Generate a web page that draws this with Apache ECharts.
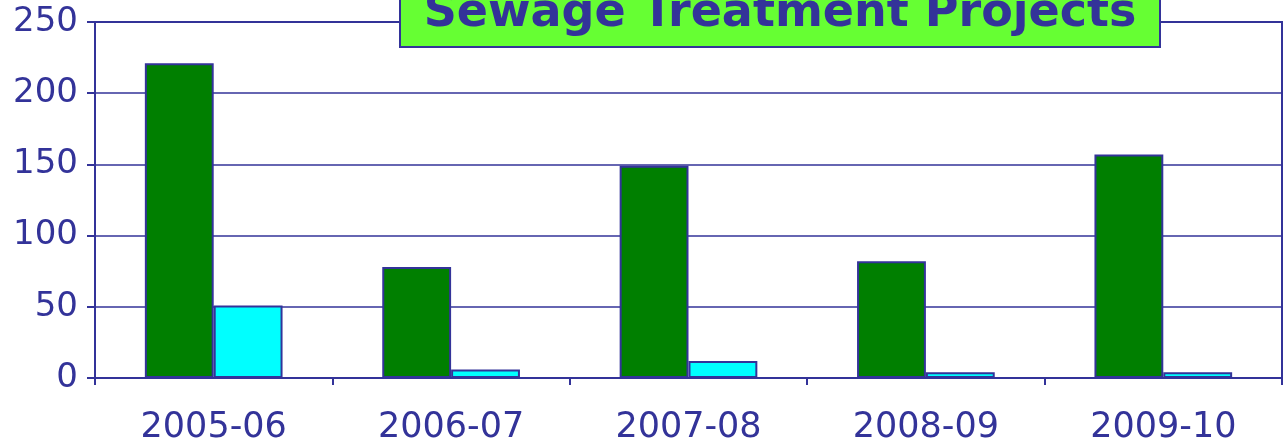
<!DOCTYPE html>
<html>
<head>
<meta charset="utf-8">
<script src="https://cdn.jsdelivr.net/npm/echarts@6/dist/echarts.min.js"></script>
<style>
  html, body { margin: 0; padding: 0; background: #fff; }
  #chart { width: 1285px; height: 445px; }
</style>
</head>
<body>
<div id="chart"></div>
<script>
/* data */
var years = ["2005-06", "2006-07", "2007-08", "2008-09", "2009-10"];
var sanctioned = [221, 78, 149, 82, 157];
var completed = [51, 6, 12, 4, 4];
var yTicks = [0, 50, 100, 150, 200, 250];

var blue = "#333399";
var font = "DejaVu Sans";

var dom = document.getElementById("chart");
var myChart = echarts.init(dom, null, { renderer: "canvas" });

var option = {
  animation: false,
  backgroundColor: "#fff",
  grid: {
    left: 95,
    right: 3,
    top: 22,
    bottom: 66,
    show: true,
    borderColor: blue,
    borderWidth: 2,
  },
  xAxis: {
    type: "category",
    data: years,
    axisLine: { lineStyle: { color: blue, width: 2 } },
    axisTick: { show: true, length: 7, lineStyle: { color: blue, width: 2 } },
    axisLabel: {
      color: blue,
      fontFamily: font,
      fontSize: 35,
      margin: 32,
    },
  },
  yAxis: {
    type: "value",
    min: yTicks[0],
    max: yTicks[yTicks.length - 1],
    interval: 50,
    axisLine: { show: true, lineStyle: { color: blue, width: 2 } },
    axisTick: { show: true, length: 8, lineStyle: { color: blue, width: 2 } },
    splitLine: { lineStyle: { color: blue, width: 1.5 } },
    axisLabel: {
      color: blue,
      fontFamily: font,
      fontSize: 34,
      margin: 17,
    },
  },
  series: [
    {
      name: "Sanctioned",
      type: "bar",
      data: sanctioned,
      barGap: "0%",
      barCategoryGap: "42%",
      itemStyle: { color: "#007F00", borderColor: blue, borderWidth: 2 },
    },
    {
      name: "Completed",
      type: "bar",
      data: completed,
      itemStyle: { color: "#00FFFF", borderColor: blue, borderWidth: 2 },
    },
  ],
  graphic: [
    {
      type: "rect",
      z: 100,
      shape: { x: 400, y: -10, width: 760, height: 57 },
      style: { fill: "#66FF33", stroke: blue, lineWidth: 2 },
    },
    {
      type: "text",
      z: 101,
      x: 780,
      y: 14,
      style: {
        text: "Sewage Treatment Projects",
        fill: blue,
        font: "bold 46px " + font,
        align: "center",
        verticalAlign: "middle",
      },
    },
  ],
};

myChart.setOption(option);
window.addEventListener("resize", myChart.resize);
</script>
</body>
</html>
